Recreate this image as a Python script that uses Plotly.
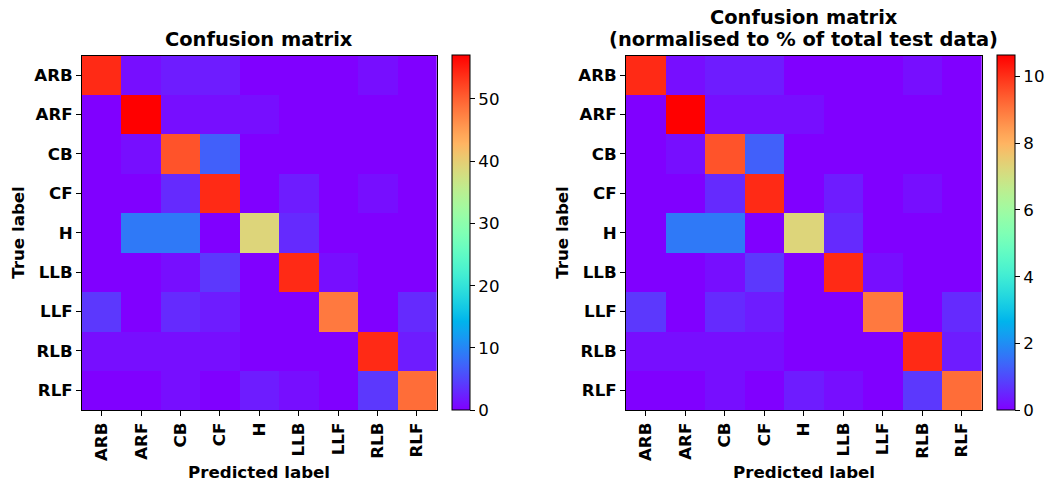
import numpy as np
import plotly.graph_objects as go

labels = ["ARB", "ARF", "CB", "CF", "H", "LLB", "LLF", "RLB", "RLF"]

# rows = true label, cols = predicted label
row_ARB = [54, 1, 2, 2, 0, 0, 0, 1, 0]
row_ARF = [0, 57, 1, 1, 1, 0, 0, 0, 0]
row_CB = [0, 1, 51, 7, 0, 0, 0, 0, 0]
row_CF = [0, 0, 3, 54, 0, 2, 0, 1, 0]
row_H = [0, 9, 9, 0, 39, 3, 0, 0, 0]
row_LLB = [0, 0, 1, 4, 0, 54, 1, 0, 0]
row_LLF = [4, 0, 3, 2, 0, 0, 48, 0, 3]
row_RLB = [1, 1, 1, 1, 0, 0, 0, 54, 2]
row_RLF = [0, 0, 1, 0, 2, 1, 0, 4, 49]

counts = np.array([row_ARB, row_ARF, row_CB, row_CF, row_H,
                   row_LLB, row_LLF, row_RLB, row_RLF], dtype=float)
percent = counts / counts.sum() * 100.0

W, H = 1049, 483


def rainbow_scale(n=41):
    out = []
    for i in range(n):
        x = i / (n - 1)
        r = min(1.0, abs(2 * x - 0.5))
        g = np.sin(np.pi * x)
        b = np.cos(np.pi * x / 2)
        out.append([x, "rgb(%d,%d,%d)" % (round(r * 255), round(g * 255), round(max(b, 0) * 255))])
    return out


cs = rainbow_scale()

FONT = "DejaVu Sans"
tickfont_bold = dict(family=FONT, size=16.67, color="black", weight="bold")
cbfont = dict(family=FONT, size=16.67, color="black")

# pixel layout
L1, R1 = 82.0, 436.7
L2, R2 = 626.0, 981.7
TOP, BOT = 55.5, 410.0


def px(x):
    return x / W


def py(y):
    return 1 - y / H


fig = go.Figure()

fig.add_trace(go.Heatmap(
    z=counts, x=labels, y=labels, colorscale=cs, zmin=0, zmax=counts.max(),
    xaxis="x", yaxis="y",
    colorbar=dict(x=px(451.7), xanchor="left", xpad=0, ypad=0,
                  y=py((TOP + BOT) / 2), yanchor="middle",
                  len=BOT - TOP, lenmode="pixels", thickness=18,
                  thicknessmode="pixels", outlinewidth=1, outlinecolor="black",
                  ticks="outside", ticklen=5, tickcolor="black", tickwidth=1,
                  tickmode="linear", tick0=0, dtick=10, tickfont=cbfont),
))
fig.add_trace(go.Heatmap(
    z=percent, x=labels, y=labels, colorscale=cs, zmin=0, zmax=percent.max(),
    xaxis="x2", yaxis="y2",
    colorbar=dict(x=px(996.7), xanchor="left", xpad=0, ypad=0,
                  y=py((TOP + BOT) / 2), yanchor="middle",
                  len=BOT - TOP, lenmode="pixels", thickness=18,
                  thicknessmode="pixels", outlinewidth=1, outlinecolor="black",
                  ticks="outside", ticklen=5, tickcolor="black", tickwidth=1,
                  tickmode="linear", tick0=0, dtick=2, tickfont=cbfont),
))

axis_common = dict(showline=True, mirror=True, linecolor="black", linewidth=1,
                   ticks="outside", ticklen=5, tickcolor="black", tickwidth=1,
                   showgrid=False, zeroline=False, tickfont=tickfont_bold,
                   fixedrange=True)

fig.update_layout(
    width=W, height=H,
    margin=dict(l=0, r=0, t=0, b=0),
    paper_bgcolor="white", plot_bgcolor="white",
    xaxis=dict(domain=[px(L1), px(R1)], anchor="y", range=[-0.5, 8.5],
               tickangle=-90, **axis_common),
    yaxis=dict(domain=[py(BOT), py(TOP)], anchor="x", range=[8.5, -0.5],
               **axis_common),
    xaxis2=dict(domain=[px(L2), px(R2)], anchor="y2", range=[-0.5, 8.5],
                tickangle=-90, **axis_common),
    yaxis2=dict(domain=[py(BOT), py(TOP)], anchor="x2", range=[8.5, -0.5],
                **axis_common),
)

title_font = dict(family=FONT, size=19.44, color="black", weight="bold")
label_font = dict(family=FONT, size=16.67, color="black", weight="bold")

ann = []


def add(text, x, y, font, angle=0):
    ann.append(dict(text=text, x=px(x), y=py(y), xref="paper", yref="paper",
                    xanchor="center", yanchor="middle", showarrow=False,
                    font=font, textangle=angle))


add("Confusion matrix", (L1 + R1) / 2, 39.0, title_font)
add("Confusion matrix", (L2 + R2) / 2, 17.5, title_font)
add("(normalised to % of total test data)", (L2 + R2) / 2, 39.0, title_font)
add("Predicted label", (L1 + R1) / 2, 472.0, label_font)
add("Predicted label", (L2 + R2) / 2, 472.0, label_font)
add("True label", 19.0, (TOP + BOT) / 2, label_font, -90)
add("True label", 19.0 + (L2 - L1), (TOP + BOT) / 2, label_font, -90)

fig.update_layout(annotations=ann)

fig.write_html("out.html")
